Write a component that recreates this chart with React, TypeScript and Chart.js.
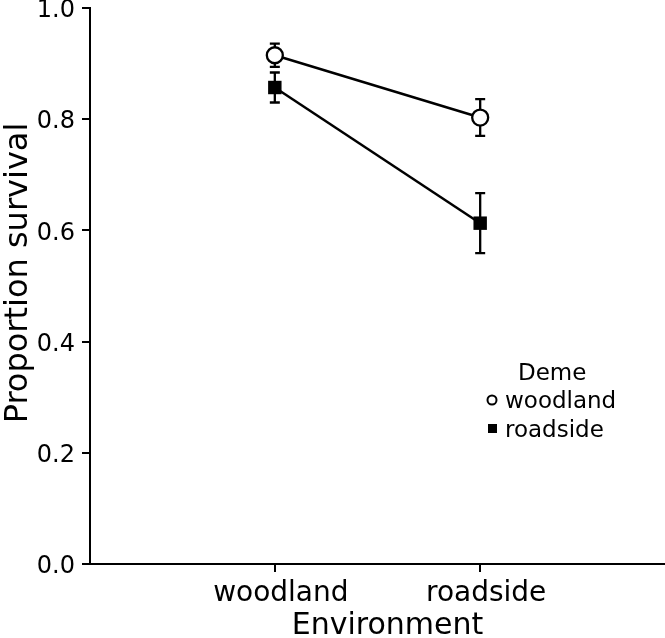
import React, { useEffect, useRef } from "react";
import { Chart, registerables } from "chart.js";

Chart.register(...registerables);

const environments = ["woodland", "roadside"];
const envPositions = [1, 2];
const woodlandDemeMean = [0.915, 0.803];
const woodlandDemeErr = [0.021, 0.033];
const roadsideDemeMean = [0.857, 0.613];
const roadsideDemeErr = [0.027, 0.054];
const yTicks = [0, 0.2, 0.4, 0.6, 0.8, 1.0];
const legendTitle = "Deme";
const demeLabels = ["woodland", "roadside"];

const FONT = "'DejaVu Sans', sans-serif";

const errorBarPlugin = {
  id: "errorBars",
  beforeDatasetsDraw(chart: any) {
    const { ctx, scales } = chart;
    const xs = scales.x;
    const ys = scales.y;
    ctx.save();
    ctx.strokeStyle = "#000";
    ctx.lineWidth = 2.3;
    chart.data.datasets.forEach((ds: any) => {
      ds.data.forEach((p: any, i: number) => {
        const e = ds.errors[i];
        const px = xs.getPixelForValue(p.x);
        const top = ys.getPixelForValue(p.y + e);
        const bot = ys.getPixelForValue(p.y - e);
        const cap = 5;
        ctx.beginPath();
        ctx.moveTo(px, top);
        ctx.lineTo(px, bot);
        ctx.moveTo(px - cap, top);
        ctx.lineTo(px + cap, top);
        ctx.moveTo(px - cap, bot);
        ctx.lineTo(px + cap, bot);
        ctx.stroke();
      });
    });
    ctx.restore();
  },
};

const titleShiftPlugin = {
  id: "titleShift",
  afterLayout(chart: any) {
    const shifts: Record<string, [number, number]> = { x: [10, 0], y: [0, -13] };
    Object.keys(shifts).forEach((id) => {
      const s = chart.scales[id];
      if (!s || s.__shifted) return;
      const orig = s.drawTitle.bind(s);
      s.drawTitle = function () {
        const c = s.ctx;
        c.save();
        c.translate(shifts[id][0], shifts[id][1]);
        orig();
        c.restore();
      };
      s.__shifted = true;
    });
  },
};

const legendPlugin = {
  id: "customLegend",
  afterDraw(chart: any) {
    const { ctx, chartArea } = chart;
    const lx = chartArea.left + 402;
    const ty = chartArea.top + 362;
    ctx.save();
    ctx.fillStyle = "#000";
    ctx.font = `23px ${FONT}`;
    ctx.textBaseline = "alphabetic";
    ctx.textAlign = "left";
    ctx.fillText(legendTitle, lx + 26, ty + 10);
    ctx.beginPath();
    ctx.arc(lx, ty + 30, 4.5, 0, Math.PI * 2);
    ctx.fillStyle = "#fff";
    ctx.fill();
    ctx.lineWidth = 2;
    ctx.strokeStyle = "#000";
    ctx.stroke();
    ctx.fillStyle = "#000";
    ctx.fillText(demeLabels[0], lx + 13, ty + 38);
    ctx.fillRect(lx - 4, ty + 54, 9, 9);
    ctx.fillText(demeLabels[1], lx + 13, ty + 67);
    ctx.restore();
  },
};

export default function App() {
  const ref = useRef<HTMLCanvasElement | null>(null);
  useEffect(() => {
    document.body.style.margin = "0";
    if (!ref.current) return;
    const chart = new Chart(ref.current, {
      type: "line",
      data: {
        datasets: [
          {
            label: demeLabels[0],
            data: envPositions.map((x, i) => ({ x, y: woodlandDemeMean[i] })),
            errors: woodlandDemeErr,
            borderColor: "#000",
            borderWidth: 2.5,
            pointStyle: "circle",
            pointRadius: 8,
            pointHoverRadius: 8,
            pointBackgroundColor: "#fff",
            pointBorderColor: "#000",
            pointBorderWidth: 2.3,
            clip: false,
          } as any,
          {
            label: demeLabels[1],
            data: envPositions.map((x, i) => ({ x, y: roadsideDemeMean[i] })),
            errors: roadsideDemeErr,
            borderColor: "#000",
            borderWidth: 2.5,
            pointStyle: "rect",
            pointRadius: 9.5,
            pointHoverRadius: 9.5,
            pointBackgroundColor: "#000",
            pointBorderColor: "#000",
            pointBorderWidth: 0,
            clip: false,
          } as any,
        ],
      },
      options: {
        responsive: false,
        animation: false,
        layout: { autoPadding: false, padding: { top: 8, left: 0, right: 0, bottom: 0 } },
        plugins: {
          legend: { display: false },
          tooltip: { enabled: false },
        },
        scales: {
          x: {
            type: "linear",
            min: 0.1,
            max: 2.9,
            afterBuildTicks: (axis: any) => {
              axis.ticks = envPositions.map((v) => ({ value: v }));
            },
            afterFit: (s: any) => {
              s.height = 74;
              s.paddingLeft = 0;
              s.paddingRight = 0;
              s.paddingTop = 0;
              s.paddingBottom = 0;
            },
            ticks: {
              color: "#000",
              font: { family: FONT, size: 28 },
              padding: 5,
              labelOffset: 6,
              callback: (v: any) => environments[envPositions.indexOf(Number(v))] ?? "",
              maxRotation: 0,
              autoSkip: false,
            },
            grid: {
              drawOnChartArea: false,
              drawTicks: true,
              tickLength: 8,
              color: "#000",
              lineWidth: 2,
            },
            border: { display: true, color: "#000", width: 2 },
            title: {
              display: true,
              text: "Environment",
              color: "#000",
              font: { family: FONT, size: 30 },
              padding: { top: 0, bottom: -6 },
            },
          },
          y: {
            type: "linear",
            min: 0,
            max: 1,
            afterBuildTicks: (axis: any) => {
              axis.ticks = yTicks.map((v) => ({ value: v }));
            },
            afterFit: (s: any) => {
              s.width = 90;
              s.paddingLeft = 0;
              s.paddingRight = 0;
              s.paddingTop = 0;
              s.paddingBottom = 0;
            },
            ticks: {
              color: "#000",
              font: { family: FONT, size: 24 },
              padding: 7,
              labelOffset: 3,
              callback: (v: any) => Number(v).toFixed(1),
            },
            grid: {
              drawOnChartArea: false,
              drawTicks: true,
              tickLength: 8,
              color: "#000",
              lineWidth: 2,
            },
            border: { display: true, color: "#000", width: 2 },
            title: {
              display: true,
              text: "Proportion survival",
              color: "#000",
              font: { family: FONT, size: 32 },
              padding: { top: -1, bottom: 0 },
            },
          },
        },
      } as any,
      plugins: [errorBarPlugin, titleShiftPlugin, legendPlugin],
    });
    return () => chart.destroy();
  }, []);
  return (
    <div style={{ position: "fixed", left: 0, top: 0, width: 665, height: 638 }}>
      <canvas ref={ref} width={665} height={638} />
    </div>
  );
}
